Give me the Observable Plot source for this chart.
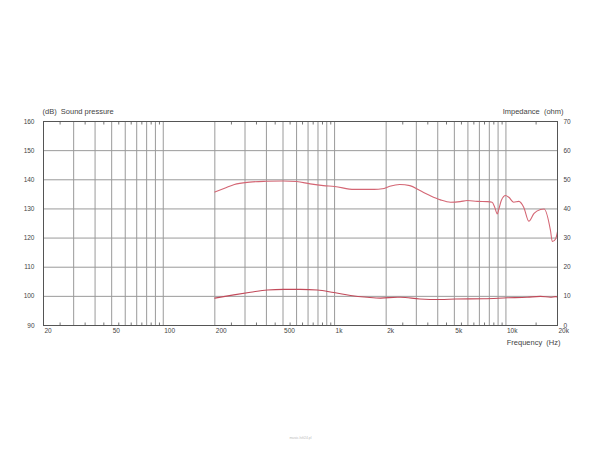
<!DOCTYPE html>
<html>
<head>
<meta charset="utf-8">
<script src="https://cdn.jsdelivr.net/npm/d3@7"></script>
<script src="https://cdn.jsdelivr.net/npm/@observablehq/plot@0.6"></script>
<style>
  html, body { margin: 0; padding: 0; background: #fff; }
  svg { display: block; }
</style>
</head>
<body>
<div id="chart"></div>
<script>
// Sound pressure curve (dB, left axis)
const splFreq = [200, 230, 260, 320, 400, 500, 600, 720, 860, 1000, 1300, 1700, 1900, 2100, 2400, 2750, 3150, 3600, 4150, 4750, 5400, 5950, 6800, 7800, 8300, 8600, 8900, 9100, 9400, 9950, 10400, 11100, 11900, 12700, 13600, 14600, 15900, 16700, 18200, 18650, 19500, 20000];
const splDb   = [135.8, 137.2, 138.4, 139.2, 139.5, 139.6, 139.4, 138.6, 138.0, 137.7, 136.7, 136.7, 136.9, 137.8, 138.4, 138.0, 136.3, 134.6, 133.1, 132.3, 132.5, 132.9, 132.6, 132.5, 132.3, 130.6, 128.3, 130.0, 132.9, 134.6, 134.0, 132.3, 132.6, 130.6, 125.8, 128.5, 129.8, 130.0, 122.6, 118.8, 119.7, 122.2];

// Impedance curve (ohm, right axis)
const impFreq = [200, 258, 323, 404, 505, 633, 793, 991, 1240, 1550, 1855, 2330, 2430, 3140, 4150, 5100, 7450, 10200, 13300, 15900, 18200, 19500, 20000];
const impOhm  = [9.4, 10.5, 11.4, 12.2, 12.4, 12.4, 12.2, 11.3, 10.3, 9.7, 9.4, 9.7, 9.7, 9.1, 8.9, 9.1, 9.2, 9.5, 9.7, 10.0, 9.7, 9.9, 9.8];

// Axes
const gridFreqs = [20,30,40,50,60,70,80,90,100,200,300,400,500,600,700,800,900,1000,2000,3000,4000,5000,6000,7000,8000,9000,10000,20000];
const minorFreqs = [25,35,45,55,65,75,85,95,250,350,450,550,650,750,850,950,2500,3500,4500,5500,6500,7500,8500,9500,15000];
const freqTicks = [20, 50, 100, 200, 500, 1000, 2000, 5000, 10000, 20000];
const freqLabels = ["20", "50", "100", "200", "500", "1k", "2k", "5k", "10k", "20k"];
const dbTicks = [90, 100, 110, 120, 130, 140, 150, 160];
const ohmLabels = ["0", "10", "20", "30", "40", "50", "60", "70"];
const ohmOffset = 90; // impedance axis 0..70 aligned with dB axis 90..160

const splData = splFreq.map((f, i) => ({f, v: splDb[i]}));
const impData = impFreq.map((f, i) => ({f, v: impOhm[i] + ohmOffset}));
const freqLabelData = freqTicks.map((f, i) => ({f, label: freqLabels[i]}));
const ohmLabelData = dbTicks.map((v, i) => ({v, label: ohmLabels[i]}));

const font = "Arial, 'Liberation Sans', Helvetica, sans-serif";
const gridColor = "#9a9a9a";
const curveColor = "#d46674";
const textColor = "#444";

const chart = Plot.plot({
  width: 600,
  height: 450,
  marginTop: 121,
  marginBottom: 125,
  marginLeft: 43,
  marginRight: 43,
  style: {fontFamily: font, color: "#333", background: "#fff"},
  x: {type: "log", domain: [20, 20000], axis: null},
  y: {domain: [90, 160], axis: null},
  marks: [
    Plot.ruleX(gridFreqs, {stroke: gridColor, strokeWidth: 1}),
    Plot.ruleY(dbTicks, {stroke: gridColor, strokeWidth: 1}),
    Plot.axisX({anchor: "bottom", ticks: minorFreqs, tickSize: -2.5, tickFormat: () => "", stroke: "#777", label: null}),
    Plot.axisX({anchor: "top", ticks: minorFreqs, tickSize: -2.5, tickFormat: () => "", stroke: "#777", label: null}),
    Plot.text(freqLabelData, {x: "f", text: "label", frameAnchor: "bottom", textAnchor: "start", lineAnchor: "top", dx: 1, dy: 3, fontSize: 6.5, fill: textColor}),
    Plot.text(dbTicks, {y: d => d, text: d => String(d), frameAnchor: "left", textAnchor: "end", dx: -9, fontSize: 6.5, fill: textColor}),
    Plot.text(ohmLabelData, {y: "v", text: "label", frameAnchor: "right", textAnchor: "start", dx: 6, fontSize: 6.5, fill: textColor}),
    Plot.line(splData, {x: "f", y: "v", stroke: curveColor, strokeWidth: 1.1, curve: "monotone-x"}),
    Plot.line(impData, {x: "f", y: "v", stroke: "#c24a5a", strokeWidth: 1.1, curve: "monotone-x"}),
    Plot.frame({stroke: "#555", strokeWidth: 1}),
    Plot.text(["(dB)\u00a0 Sound pressure"], {frameAnchor: "top-left", textAnchor: "start", lineAnchor: "bottom", dx: -1, dy: -8, fontSize: 7.5, fill: textColor}),
    Plot.text(["Impedance\u00a0 (ohm)"], {frameAnchor: "top-right", textAnchor: "end", lineAnchor: "bottom", dx: 6, dy: -8, fontSize: 7.5, fill: textColor}),
    Plot.text(["Frequency\u00a0 (Hz)"], {frameAnchor: "bottom-right", textAnchor: "end", lineAnchor: "middle", dx: 3, dy: 17, fontSize: 7.5, fill: textColor}),
    Plot.text(["music.hifi24.pl"], {frameAnchor: "bottom", textAnchor: "middle", lineAnchor: "middle", dy: 112, fontSize: 3.5, fill: "#bbb"})
  ]
});
document.getElementById("chart").appendChild(chart);
</script>
</body>
</html>
